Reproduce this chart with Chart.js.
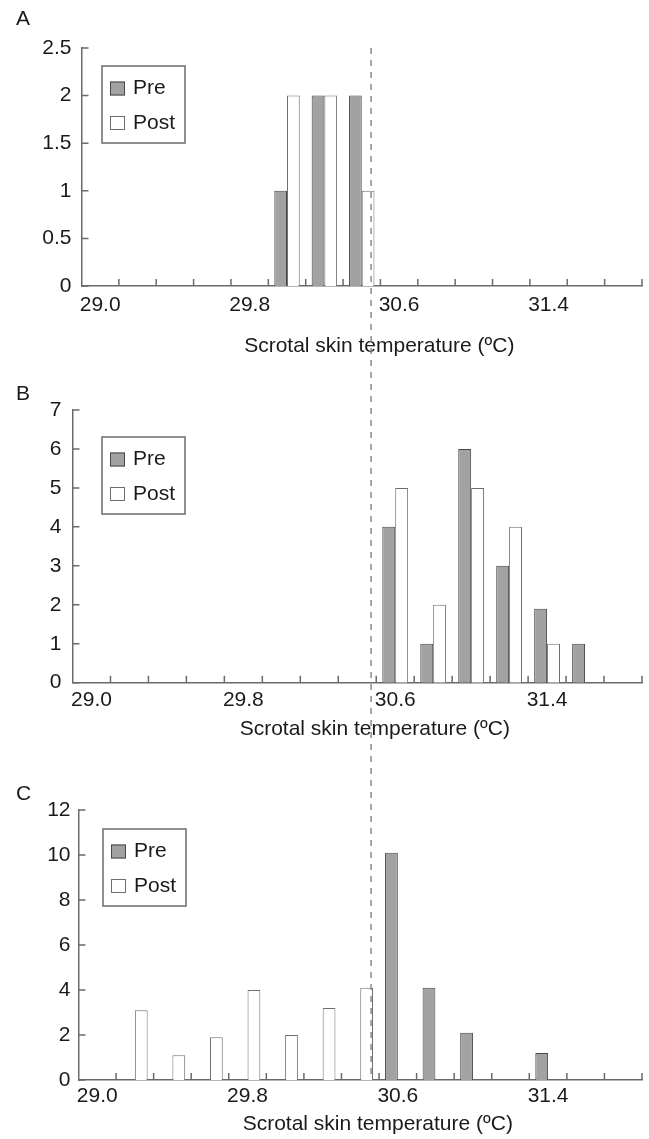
<!DOCTYPE html>
<html>
<head>
<meta charset="utf-8">
<title>Scrotal skin temperature, pre and post</title>
<script src="https://cdn.jsdelivr.net/npm/chart.js@4.4.1/dist/chart.umd.min.js"></script>
<style>
  html, body { margin: 0; padding: 0; background: #fff; }
  body { width: 649px; height: 1139px; position: relative; overflow: hidden; }
  canvas { position: absolute; left: 0; }
</style>
</head>
<body>
<canvas id="chartA" width="649" height="375" style="top:0px"></canvas>
<canvas id="chartB" width="649" height="385" style="top:375px"></canvas>
<canvas id="chartC" width="649" height="379" style="top:760px"></canvas>
<script>
// temperature classes (0.2 ºC wide), only every 4th one is labelled
const temps = ['29.0', '29.2', '29.4', '29.6', '29.8', '30.0', '30.2', '30.4',
  '30.6', '30.8', '31.0', '31.2', '31.4', '31.6', '31.8'];

// counts per class
const preA = [0, 0, 0, 0, 0, 1, 2, 2, 0, 0, 0, 0, 0, 0, 0];
const postA = [0, 0, 0, 0, 0, 2, 2, 1, 0, 0, 0, 0, 0, 0, 0];
const preB = [0, 0, 0, 0, 0, 0, 0, 0, 4, 1, 6, 3, 1.9, 1, 0];
const postB = [0, 0, 0, 0, 0, 0, 0, 0, 5, 2, 5, 4, 1, 0, 0];
const preC = [0, 0, 0, 0, 0, 0, 0, 0, 10.1, 4.1, 2.1, 0, 1.2, 0, 0];
const postC = [0, 3.1, 1.1, 1.9, 4, 2, 3.2, 4.1, 0, 0, 0, 0, 0, 0, 0];

const xTitle = 'Scrotal skin temperature (ºC)';
const thresholdTemp = 30.45; // dashed reference line, runs through all panels

const textColor = '#1a1a1a';
const axisColor = '#6a6a6a';
const preFill = '#a2a2a2';
const preLine = '#474747';
const postFill = '#ffffff';
const postLine = '#6e6e6e';
const font = { family: '"Liberation Sans", Arial, sans-serif', size: 21, weight: 'normal' };

Chart.defaults.font.family = font.family;
Chart.defaults.color = textColor;

let thresholdX = null;

// tick marks point into the plot on both axes
const innerTicks = {
  id: 'innerTicks',
  afterDraw(chart) {
    const { ctx, chartArea: area, scales: { x, y } } = chart;
    ctx.save();
    ctx.strokeStyle = axisColor;
    ctx.lineWidth = 1.5;
    ctx.beginPath();
    for (let i = 1; i <= temps.length; i++) {
      const px = x.getPixelForValue(i - 0.5);
      ctx.moveTo(px, area.bottom);
      ctx.lineTo(px, area.bottom - 7);
    }
    y.ticks.forEach(t => {
      const py = y.getPixelForValue(t.value);
      ctx.moveTo(area.left, py);
      ctx.lineTo(area.left + 7, py);
    });
    ctx.stroke();
    ctx.restore();
  },
};

// vertical dashed line; position comes from panel A's axis so it stays straight
const refLine = {
  id: 'refLine',
  afterDraw(chart, args, opts) {
    const { ctx, chartArea: area } = chart;
    if (thresholdX === null) {
      const step = Number(temps[1]) - Number(temps[0]);
      thresholdX = chart.scales.x.getPixelForValue((thresholdTemp - Number(temps[0])) / step);
    }
    const y0 = opts.fromTop ? area.top - 6 : 0;
    const y1 = opts.toAxis ? area.bottom : chart.height;
    ctx.save();
    ctx.strokeStyle = '#8c8c8c';
    ctx.lineWidth = 1.5;
    ctx.setLineDash([6, 6]);
    ctx.lineDashOffset = opts.pageTop + y0;
    ctx.beginPath();
    ctx.moveTo(thresholdX, y0);
    ctx.lineTo(thresholdX, y1);
    ctx.stroke();
    ctx.restore();
  },
};

// boxed legend sitting inside the plot area
const boxLegend = {
  id: 'boxLegend',
  afterDraw(chart, args, opts) {
    const { ctx, chartArea: area } = chart;
    const bx = area.left + opts.dx;
    const by = area.top + opts.dy;
    ctx.save();
    ctx.fillStyle = '#fff';
    ctx.strokeStyle = axisColor;
    ctx.lineWidth = 1.5;
    ctx.fillRect(bx, by, 83, 77);
    ctx.strokeRect(bx, by, 83, 77);
    ctx.font = `${font.size}px ${font.family}`;
    ctx.textBaseline = 'middle';
    chart.data.datasets.forEach((ds, i) => {
      const cy = by + 22.5 + i * 34.5;
      ctx.fillStyle = ds.backgroundColor;
      ctx.fillRect(bx + 8, cy - 7, 15, 14);
      ctx.strokeStyle = ds.borderColor;
      ctx.lineWidth = 1;
      ctx.strokeRect(bx + 8.5, cy - 6.5, 14, 13);
      ctx.fillStyle = textColor;
      ctx.fillText(ds.label, bx + 31, cy);
    });
    ctx.restore();
  },
};

function makeChart(id, pre, post, cfg) {
  return new Chart(document.getElementById(id), {
    type: 'bar',
    data: {
      labels: temps,
      datasets: [
        { label: 'Pre', data: pre, backgroundColor: preFill, borderColor: preLine,
          borderWidth: 1, categoryPercentage: 0.68, barPercentage: 1 },
        { label: 'Post', data: post, backgroundColor: postFill, borderColor: postLine,
          borderWidth: 1, categoryPercentage: 0.68, barPercentage: 1 },
      ],
    },
    options: {
      responsive: false,
      animation: false,
      devicePixelRatio: 1,
      events: [],
      layout: { padding: { left: 16, right: 7, top: 0, bottom: 0 } },
      scales: {
        x: {
          grid: { display: false, drawTicks: false },
          border: { color: axisColor, width: 1.5 },
          ticks: {
            autoSkip: false,
            maxRotation: 0,
            font,
            color: textColor,
            padding: cfg.tickPad,
            callback: (v, i) => (i % 4 === 0 ? temps[i] : ''),
          },
          title: {
            display: true,
            text: '\u00a0'.repeat(6) + xTitle,
            font,
            color: textColor,
            padding: { top: 0, bottom: cfg.titlePad },
          },
          afterFit: s => { s.height = cfg.xHeight; },
        },
        y: {
          min: 0,
          max: cfg.yMax,
          grid: { display: false, drawTicks: false },
          border: { color: axisColor, width: 1.5 },
          ticks: {
            stepSize: cfg.yStep,
            font,
            color: textColor,
            padding: cfg.yPad,
            callback: v => String(v),
          },
          afterFit: s => { s.width = cfg.yWidth; },
        },
      },
      plugins: {
        legend: { display: false },
        tooltip: { enabled: false },
        title: {
          display: true,
          text: cfg.panel,
          align: 'start',
          font,
          color: textColor,
          padding: cfg.panelPad,
        },
        boxLegend: { dx: cfg.legendDx, dy: cfg.legendDy },
        refLine: { pageTop: cfg.pageTop, fromTop: cfg.panel === 'A', toAxis: cfg.panel === 'C' },
      },
    },
    plugins: [innerTicks, refLine, boxLegend],
  });
}

makeChart('chartA', preA, postA, {
  panel: 'A', pageTop: 0, panelPad: { top: 7, bottom: 15.8 },
  yWidth: 65.5, yMax: 2.5, yStep: 0.5, yPad: 10,
  xHeight: 89, tickPad: 6.4, titlePad: 16.5,
  legendDx: 20.5, legendDy: 18,
});

makeChart('chartB', preB, postB, {
  panel: 'B', pageTop: 375, panelPad: { top: 6.6, bottom: 3.2 },
  yWidth: 56.5, yMax: 7, yStep: 1, yPad: 11,
  xHeight: 77.3, tickPad: 5.2, titlePad: 17.9,
  legendDx: 29.5, legendDy: 27,
});

makeChart('chartC', preC, postC, {
  panel: 'C', pageTop: 760, panelPad: { top: 21.9, bottom: 2.9 },
  yWidth: 62.5, yMax: 12, yStep: 2, yPad: 8,
  xHeight: 59, tickPad: 4, titlePad: 2.4,
  legendDx: 24.5, legendDy: 19,
});
</script>
</body>
</html>
